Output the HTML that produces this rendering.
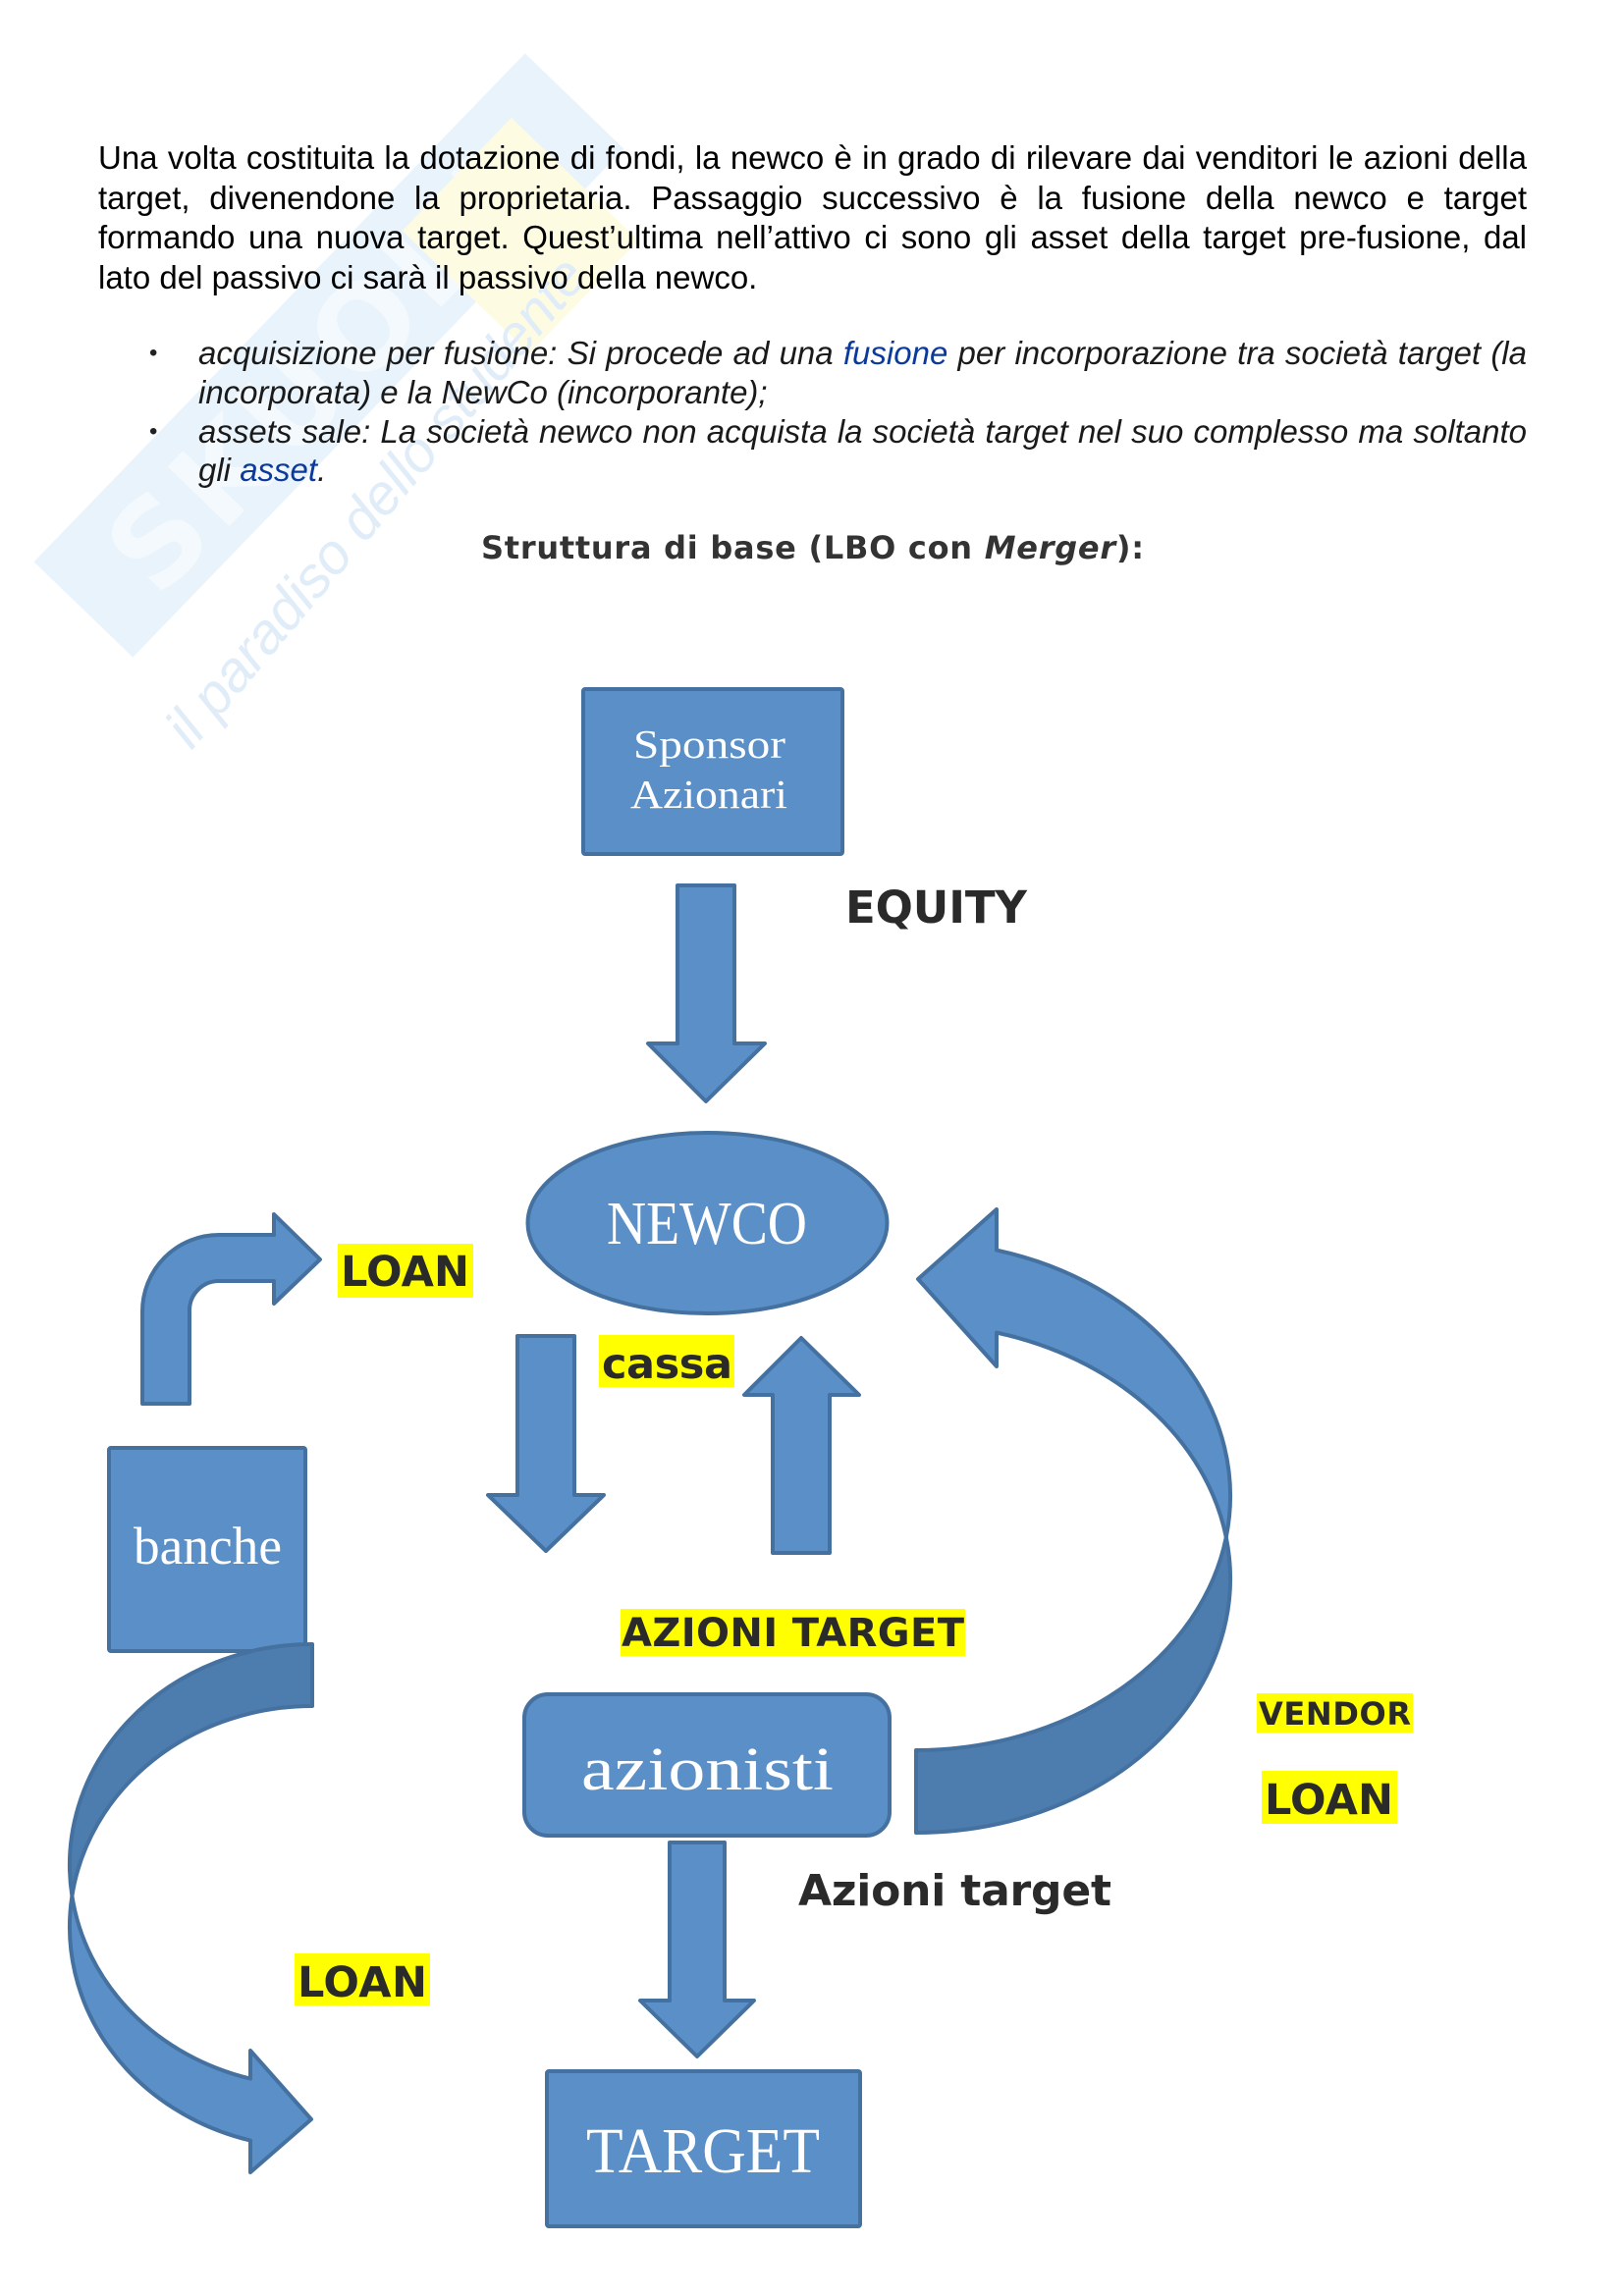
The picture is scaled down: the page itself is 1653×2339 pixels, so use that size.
<!DOCTYPE html>
<html>
<head>
<meta charset="utf-8">
<style>
  html, body { margin:0; padding:0; background:#ffffff; }
  body { width:1653px; height:2339px; position:relative; overflow:hidden; }
  svg.layer { position:absolute; left:0; top:0; z-index:0; }
  .ln { position:absolute; left:100px; width:1455px; height:41px; line-height:41px;
        font-family:"Liberation Sans", Arial, sans-serif; font-size:33px; color:#000;
        text-align:justify; text-align-last:justify; white-space:nowrap; z-index:2; }
  .ln.last { text-align:left; text-align-last:left; }
  .bl { left:202px; width:1353px; font-style:italic; color:#1a1a1a; }
  .lk { color:#0c3a9a; }
  .dot { position:absolute; left:152px; font-family:"Liberation Sans", Arial, sans-serif;
         font-size:24px; line-height:41px; height:41px; color:#222; z-index:2; }
</style>
</head>
<body>

<svg class="layer" width="1653" height="2339" viewBox="0 0 1653 2339" xmlns="http://www.w3.org/2000/svg">
  <!-- watermark -->
  <g>
    <g transform="translate(335,362) rotate(-46)">
      <rect x="-360" y="-70" width="720" height="140" fill="#e8f3fb"/>
      <text x="-300" y="48" font-family="DejaVu Sans" font-weight="bold" font-size="120" fill="#f4f9fd" textLength="580">SKUOLA</text>
    </g>
    <g transform="translate(530,240) rotate(-46)">
      <rect x="-80" y="-90" width="160" height="180" fill="#fdfbe2"/>
    </g>
    <text transform="translate(195,765) rotate(-50)" font-family="Liberation Sans" font-style="italic" font-size="58" fill="#e0edf8" textLength="630">il paradiso dello studente</text>
  </g>

  <!-- title -->
  <text x="490" y="569" font-family="DejaVu Sans" font-weight="bold" font-size="32" fill="#333333" textLength="675">Struttura di base (LBO con <tspan font-style="italic">Merger</tspan>):</text>

  <g stroke="#44719f" stroke-width="4" stroke-linejoin="round" fill="#5b8fc7">
    <!-- Sponsor box -->
    <rect x="594" y="702" width="264" height="168" rx="2"/>
    <!-- equity arrow -->
    <polygon points="690,902 748,902 748,1063 779,1063 719,1122 660,1063 690,1063"/>
    <!-- NEWCO ellipse -->
    <ellipse cx="720.5" cy="1246" rx="183" ry="92"/>
    <!-- bent arrow (loan from banche) -->
    <path d="M145 1430 L145 1336 A78 78 0 0 1 223 1258 L279 1258 L279 1237 L326 1283 L279 1328 L279 1305 L223 1305 A30 30 0 0 0 193 1335 L193 1430 Z"/>
    <!-- banche box -->
    <rect x="111" y="1475" width="200" height="207" rx="2"/>
    <!-- cassa down arrow -->
    <polygon points="527,1361 585,1361 585,1523 615,1523 556,1580 497,1523 527,1523"/>
    <!-- up arrow -->
    <polygon points="787,1582 845,1582 845,1421 875,1421 816,1363 758,1421 787,1421"/>
    <!-- azionisti rounded box -->
    <rect x="534" y="1726" width="372" height="144" rx="24"/>
    <!-- arrow to target -->
    <polygon points="682,1877 738,1877 738,2038 768,2038 710,2095 652,2038 682,2038"/>
    <!-- TARGET box -->
    <rect x="557" y="2110" width="319" height="158" rx="2"/>

    <!-- right curved arrow (vendor loan) -->
    <path fill="#4d7cae" d="M1248.8 1566 A320 259 0 0 1 933 1867 L933 1783 A320 259 0 0 0 1248.8 1566 Z"/>
    <path d="M1015 1273.6 A320 259 0 0 1 1248.8 1566 A320 259 0 0 0 1015 1357.6 L1015 1392 L935 1303 L1015 1232 Z"/>

    <!-- left curved arrow (loan to target) -->
    <path fill="#4d7cae" d="M318 1675 A247 225 0 0 0 73.4 1931.5 A247 225 0 0 1 318 1738 Z"/>
    <path d="M73.4 1931.5 A247 225 0 0 0 255 2180.6 L255 2213 L317 2159 L255 2089 L255 2117.6 A247 225 0 0 1 73.4 1931.5 Z"/>
  </g>

  <!-- white serif labels -->
  <g fill="#ffffff" font-family="Liberation Serif, serif">
    <text x="645" y="772" font-size="41" textLength="155" lengthAdjust="spacingAndGlyphs">Sponsor</text>
    <text x="642" y="823" font-size="41" textLength="160" lengthAdjust="spacingAndGlyphs">Azionari</text>
    <text x="618" y="1267" font-size="62" textLength="204" lengthAdjust="spacingAndGlyphs">NEWCO</text>
    <text x="136" y="1593" font-size="54" textLength="151" lengthAdjust="spacingAndGlyphs">banche</text>
    <text x="592" y="1823" font-size="62" textLength="257" lengthAdjust="spacingAndGlyphs">azionisti</text>
    <text x="597" y="2213" font-size="66" textLength="238" lengthAdjust="spacingAndGlyphs">TARGET</text>
  </g>

  <!-- yellow highlight backgrounds -->
  <g fill="#ffff00">
    <rect x="344" y="1267" width="138" height="55"/>
    <rect x="610" y="1360" width="138" height="53"/>
    <rect x="632" y="1639" width="351" height="48"/>
    <rect x="1280" y="1725" width="159" height="40"/>
    <rect x="1285" y="1804" width="138" height="54"/>
    <rect x="300" y="1990" width="138" height="53"/>
  </g>

  <!-- bold labels -->
  <g fill="#2a2a2a" font-family="DejaVu Sans, sans-serif" font-weight="bold">
    <text x="861" y="940" font-size="45" textLength="185">EQUITY</text>
    <text x="347" y="1310" font-size="43" textLength="131">LOAN</text>
    <text x="613" y="1404" font-size="43" textLength="133">cassa</text>
    <text x="633" y="1677" font-size="40" textLength="349">AZIONI TARGET</text>
    <text x="813" y="1941" font-size="44" textLength="319">Azioni target</text>
    <text x="1282" y="1757" font-size="32" textLength="155">VENDOR</text>
    <text x="1288" y="1848" font-size="43" textLength="131">LOAN</text>
    <text x="303" y="2034" font-size="43" textLength="132">LOAN</text>
  </g>
</svg>

<!-- paragraph -->
<div class="ln" style="top:140px;">Una volta costituita la dotazione di fondi, la newco è in grado di rilevare dai venditori le azioni della</div>
<div class="ln" style="top:181px;">target, divenendone la proprietaria. Passaggio successivo è la fusione della newco e target</div>
<div class="ln" style="top:221px;">formando una nuova target. Quest’ultima nell’attivo ci sono gli asset della target pre-fusione, dal</div>
<div class="ln last" style="top:262px;">lato del passivo ci sarà il passivo della newco.</div>

<!-- bullets -->
<div class="dot" style="top:339px;">•</div>
<div class="ln bl" style="top:339px;">acquisizione per fusione: Si procede ad una <span class="lk">fusione</span> per incorporazione tra società target (la</div>
<div class="ln bl last" style="top:379px;">incorporata) e la NewCo (incorporante);</div>
<div class="dot" style="top:419px;">•</div>
<div class="ln bl" style="top:419px;">assets sale: La società newco non acquista la società target nel suo complesso ma soltanto</div>
<div class="ln bl last" style="top:458px;">gli <span class="lk">asset</span>.</div>

</body>
</html>
